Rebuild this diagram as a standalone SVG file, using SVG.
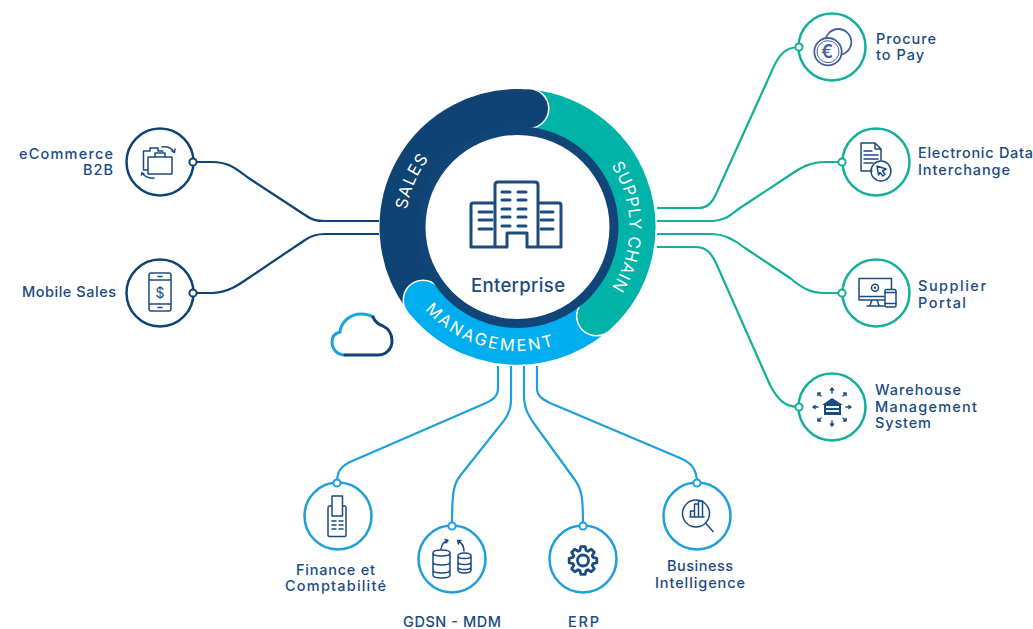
<svg xmlns="http://www.w3.org/2000/svg" width="1033" height="629" viewBox="0 0 1033 629">
<style>
text{font-family:"Inter","Liberation Sans",sans-serif}
.t{font-size:14.5px;font-weight:550;fill:#1b4b80}
.band{fill:none;stroke-width:38}
.rt{font-size:16.5px;font-weight:400;fill:#fff}
.ln{fill:none;stroke-width:2.2}
.n{fill:none;stroke:#0f4374;stroke-width:2.5}
.s{fill:none;stroke:#12b09a;stroke-width:2.5}
.b{fill:none;stroke:#1e9fdb;stroke-width:2.5}
.dn{fill:#fff;stroke:#0f4374;stroke-width:2}
.ds{fill:#fff;stroke:#12b09a;stroke-width:2}
.db{fill:#fff;stroke:#1e9fdb;stroke-width:2}
.i{fill:none;stroke:#1b4b80;stroke-width:1.5;stroke-linejoin:round;stroke-linecap:round}
.w{fill:none;stroke:#1b4b80;stroke-width:3;stroke-linecap:round;stroke-linejoin:round}
</style>
<defs>
<path id="pSales" d="M406.2 239.9A112 112 0 0 1 450.7 137.1"/>
<path id="pSupply" d="M589.5 141.2A112 112 0 0 1 589.5 312.8"/>
<path id="pMgmt" d="M405.1 279.4A124 124 0 0 0 588.6 328.6"/>
</defs>

<g id="connectors">
<g class="ln" stroke="#0f4374">
<path d="M193 162H212C230 162 237 170 250 179L305 215C312 220 316 221 325 221H379"/>
<path d="M193 293H212C228 293 240 284 250 277L305 240C312 235 318 234 325 234H379"/>
</g>
<g class="ln" stroke="#12b09a">
<path d="M657 208H698C710 208 713 200 717 192L770 75C778 55 785 47 799 47"/>
<path d="M657 221H712C725 221 730 215 740 208L790 175C800 168 810 162 825 162H842"/>
<path d="M657 234H712C725 234 735 240 745 248L790 278C802 288 810 293 825 293H842"/>
<path d="M657 247H695C708 247 712 255 716 263L770 385C778 400 785 407 799 407"/>
</g>
<g class="ln" stroke="#1e9fdb">
<path d="M498 366V388C498 397 492 400 486 403L350 462C340 467 337 472 337 483"/>
<path d="M511 366V400C511 412 505 420 498 428L460 476C454 484 452 490 452 526"/>
<path d="M524 366V395C524 408 528 415 535 425L575 480C582 490 583 497 583 526"/>
<path d="M537 366V388C537 397 544 400 550 403L680 458C692 463 697 470 697 483"/>
</g>
</g>

<g id="ring">
<path class="band" stroke="#00aeef" d="M422.8 299A119 119 0 0 0 602.5 310"/>
<circle cx="596.4" cy="316" r="20.500" fill="#fff"/>
<path class="band" stroke="#00b3a8" d="M520 108A119 119 0 0 1 596.4 316"/>
<circle cx="596.4" cy="316" r="19" fill="#00b3a8"/>
<circle cx="529" cy="108.600" r="20.500" fill="#fff"/>
<path class="band" stroke="#0f4374" d="M422.3 298.4A119 119 0 0 1 529 108.6"/>
<circle cx="529" cy="108.600" r="19" fill="#0f4374"/>
<circle cx="423" cy="300" r="20.500" fill="#fff"/>
<path class="band" stroke="#00aeef" d="M423 300A119 119 0 0 0 470 336"/>
<circle cx="423" cy="300" r="19" fill="#00aeef"/>
<circle cx="517.5" cy="227" r="101" fill="#114578"/>
<circle cx="517.5" cy="227" r="92" fill="#fff"/>
<text class="rt" text-anchor="middle" letter-spacing="1"><textPath href="#pSales" startOffset="50%">SALES</textPath></text>
<text class="rt" text-anchor="middle" letter-spacing="0.700"><textPath href="#pSupply" startOffset="50%">SUPPLY CHAIN</textPath></text>
<text class="rt" text-anchor="middle" letter-spacing="2.400"><textPath href="#pMgmt" startOffset="50%">MANAGEMENT</textPath></text>
</g>

<g id="enterprise">
<path class="w" d="M495 247V185Q495 182 498 182H535Q538 182 538 185V247M495 203H473Q471 203 471 205V247H507V233H527V247H561V205Q561 203 559 203H538"/>
<path class="w" d="M502 192H510M518 192H526M502 200H510M518 200H526M502 209H510M518 209H526M502 217H510M518 217H526M502 226H510M518 226H526M479 212H492M479 220H492M479 229H492M541 212H553M541 220H553M541 229H553"/>
<text x="518" y="291.5" text-anchor="middle" font-weight="500" fill="#1b4b80" textLength="94" style="font-size:18.500px">Enterprise</text>
</g>

<g id="cloud" fill="none" stroke-width="3" stroke-linecap="round">
<path stroke="#1ea3da" d="M345 355C337 355 332 349 332 342C332 336 336 333 340 332C341 322 350 314 361 314C366 314 370 315 373 317"/>
<path stroke="#0f4374" d="M373 317C375 322 380 325 383 326C389 329 392 335 392 341C392 349 386 355 378 355H345"/>
</g>

<g id="node-ecommerce">
<circle class="n" cx="160" cy="162" r="33.500"/><circle class="dn" cx="193" cy="162" r="3.600"/>
<path class="i" d="M148 157H172V174H148ZM155 157V153H165V157M148 170H143.500V151H150V148H158V151H163"/>
<path class="i" d="M162 147Q170 146 174 152M172 151L174.500 152.500L175 149M154 178Q147 179 142 173M144 174L142 172.500L141.500 175"/>
<text class="t" x="113" y="159" text-anchor="end" textLength="94">eCommerce</text>
<text class="t" x="113" y="175" text-anchor="end" textLength="30">B2B</text>
</g>

<g id="node-mobile">
<circle class="n" cx="160" cy="293" r="33.500"/><circle class="dn" cx="193" cy="293" r="3.600"/>
<path class="i" d="M151 273H169Q171 273 171 275V309Q171 311 169 311H151Q149 311 149 309V275Q149 273 151 273ZM149 280H171M149 304H171M158 276.500H162M158 307.500H162"/>
<text x="160" y="298" text-anchor="middle" fill="#1b4b80" style="font-size:14px">$</text>
<text class="t" x="22" y="297" textLength="94">Mobile Sales</text>
</g>

<g id="node-procure">
<circle class="s" cx="832" cy="47" r="33.500"/><circle class="ds" cx="799" cy="47" r="3.600"/>
<circle cx="838.300" cy="42" r="13" fill="none" stroke="#45609a" stroke-width="1.800"/>
<circle cx="828" cy="51.700" r="13.700" fill="#fff" stroke="#45609a" stroke-width="1.800"/>
<circle cx="828" cy="51.700" r="11" fill="none" stroke="#45609a" stroke-width="1"/>
<text x="827" y="58" text-anchor="middle" fill="#45609a" font-weight="600" style="font-size:18px">€</text>
<text class="t" x="876" y="44" textLength="60">Procure</text>
<text class="t" x="876" y="60" textLength="48">to Pay</text>
</g>

<g id="node-edi">
<circle class="s" cx="876" cy="162" r="33.500"/><circle class="ds" cx="842" cy="162" r="3.600"/>
<path class="i" d="M872 171H861V143H875L881 149V160M875 143V149H881M864 151H872M864 155H878M864 159H878M864 163H873"/>
<circle class="i" cx="881" cy="171" r="10"/>
<path class="i" d="M877 166L886 169L882.500 171L885 174.500L883 176L880 172.500L878.500 175Z"/>
<text class="t" x="918" y="158" textLength="115">Electronic Data</text>
<text class="t" x="918" y="175" textLength="92">Interchange</text>
</g>

<g id="node-supplier">
<circle class="s" cx="876" cy="293" r="33.500"/><circle class="ds" cx="842" cy="293" r="3.600"/>
<path class="i" d="M884 300H859V278.500H891.500V289M859 296.500H884M872 300L870 305.500M877 300L879 305.500M867 306H884"/>
<rect class="i" x="885" y="289.500" width="11" height="17.500" rx="1.500"/>
<path class="i" d="M885 292.500H896M885 303.500H896"/>
<circle class="i" cx="875" cy="287.700" r="3.500" stroke-dasharray="2 1"/><circle cx="875" cy="287.700" r="1.200" fill="#1b4b80"/>
<text class="t" x="918" y="291" textLength="68">Supplier</text>
<text class="t" x="918" y="308" textLength="48">Portal</text>
</g>

<g id="node-wms">
<circle class="s" cx="832" cy="407" r="33.500"/><circle class="ds" cx="799" cy="407" r="3.600"/>
<path d="M822 405L832 398L843 405H841V415H824V405Z" fill="#1b4b80"/>
<path d="M826 406H839V408H826ZM826 410H839V412H826Z" fill="#fff"/>
<path class="i" d="M832 393V388M830.500 390L832 388L833.500 390M832 421V426M830.500 424L832 426L833.500 424M818 407H813M815 405.500L813 407L815 408.500M846 407H851M849 405.500L851 407L849 408.500M821 396L818 393M818 395.500V393H820.500M843 396L846 393M846 395.500V393H843.500M821 418L818 421M818 418.500V421H820.500M843 418L846 421M846 418.500V421H843.500"/>
<text class="t" x="875" y="395" textLength="86">Warehouse</text>
<text class="t" x="875" y="412" textLength="102">Management</text>
<text class="t" x="875" y="428" textLength="56">System</text>
</g>

<g id="node-finance">
<circle class="b" cx="338" cy="516" r="33.500"/><circle class="db" cx="337" cy="483" r="3.600"/>
<path class="i" d="M332 506H329.500Q328 506 328 507.500V535Q328 536.500 329.500 536.500H345Q346 536.500 346 535V507.500Q346 506 344.500 506H342.500M332 496H342.500V516H332ZM332 521H336M339 521H343M332 525H336M339 525H343M332 529H336M339 529H343"/>
<text class="t" x="335.500" y="574.500" text-anchor="middle" textLength="79">Finance et</text>
<text class="t" x="335.500" y="591" text-anchor="middle" textLength="101">Comptabilité</text>
</g>

<g id="node-gdsn">
<circle class="b" cx="452" cy="559" r="33.500"/><circle class="db" cx="452" cy="526" r="3.600"/>
<path class="i" d="M433 553V575Q433 578 441.500 578Q450 578 450 575V553Q450 550 441.500 550Q433 550 433 553ZM433 553Q433 556 441.500 556Q450 556 450 553M433 562Q433 565 441.500 565Q450 565 450 562M433 570Q433 573 441.500 573Q450 573 450 570"/>
<path class="i" d="M458 556V570Q458 573 464.500 573Q471 573 471 570V556Q471 553 464.500 553Q458 553 458 556ZM458 556Q458 558.500 464.500 558.500Q471 558.500 471 556M458 562Q458 564.500 464.500 564.500Q471 564.500 471 562M458 567Q458 569.500 464.500 569.500Q471 569.500 471 567"/>
<path class="i" d="M441 549Q442 542 448 540.500M445 539.500L448 540.500L446 543M464 551Q464 544 458 541M461 540.500L457.500 540.500L458.500 544"/>
<text class="t" x="452" y="627" text-anchor="middle" textLength="98">GDSN - MDM</text>
</g>

<g id="node-erp">
<circle class="b" cx="583" cy="559" r="33.500"/><circle class="db" cx="583" cy="526" r="3.600"/>
<g transform="translate(583 560.500)" fill="none" stroke="#1b4b80" stroke-width="2.800" stroke-linejoin="round">
<polygon points="10.04,-3.07 13.83,-2.19 13.83,2.19 10.04,3.07 9.27,4.93 11.33,8.23 8.23,11.33 4.93,9.27 3.07,10.04 2.19,13.83 -2.19,13.83 -3.07,10.04 -4.93,9.27 -8.23,11.33 -11.33,8.23 -9.27,4.93 -10.04,3.07 -13.83,2.19 -13.83,-2.19 -10.04,-3.07 -9.27,-4.93 -11.33,-8.23 -8.23,-11.33 -4.93,-9.27 -3.07,-10.04 -2.19,-13.83 2.19,-13.83 3.07,-10.04 4.93,-9.27 8.23,-11.33 11.33,-8.23 9.27,-4.93"/>
<circle r="5.500"/>
</g>
<text class="t" x="583.500" y="627" text-anchor="middle" textLength="31">ERP</text>
</g>

<g id="node-bi">
<circle class="b" cx="697" cy="516" r="33.500"/><circle class="db" cx="697" cy="483" r="3.600"/>
<circle class="i" cx="696" cy="513.500" r="13.500"/>
<path class="i" d="M705.500 523L713 531.500M690.500 517V511H694.500V517M694.500 517V504H698.500V517M698.500 517V501H702.500V517M690 517H704"/>
<text class="t" x="700" y="571" text-anchor="middle" textLength="66">Business</text>
<text class="t" x="700" y="588" text-anchor="middle" textLength="90">Intelligence</text>
</g>
</svg>
